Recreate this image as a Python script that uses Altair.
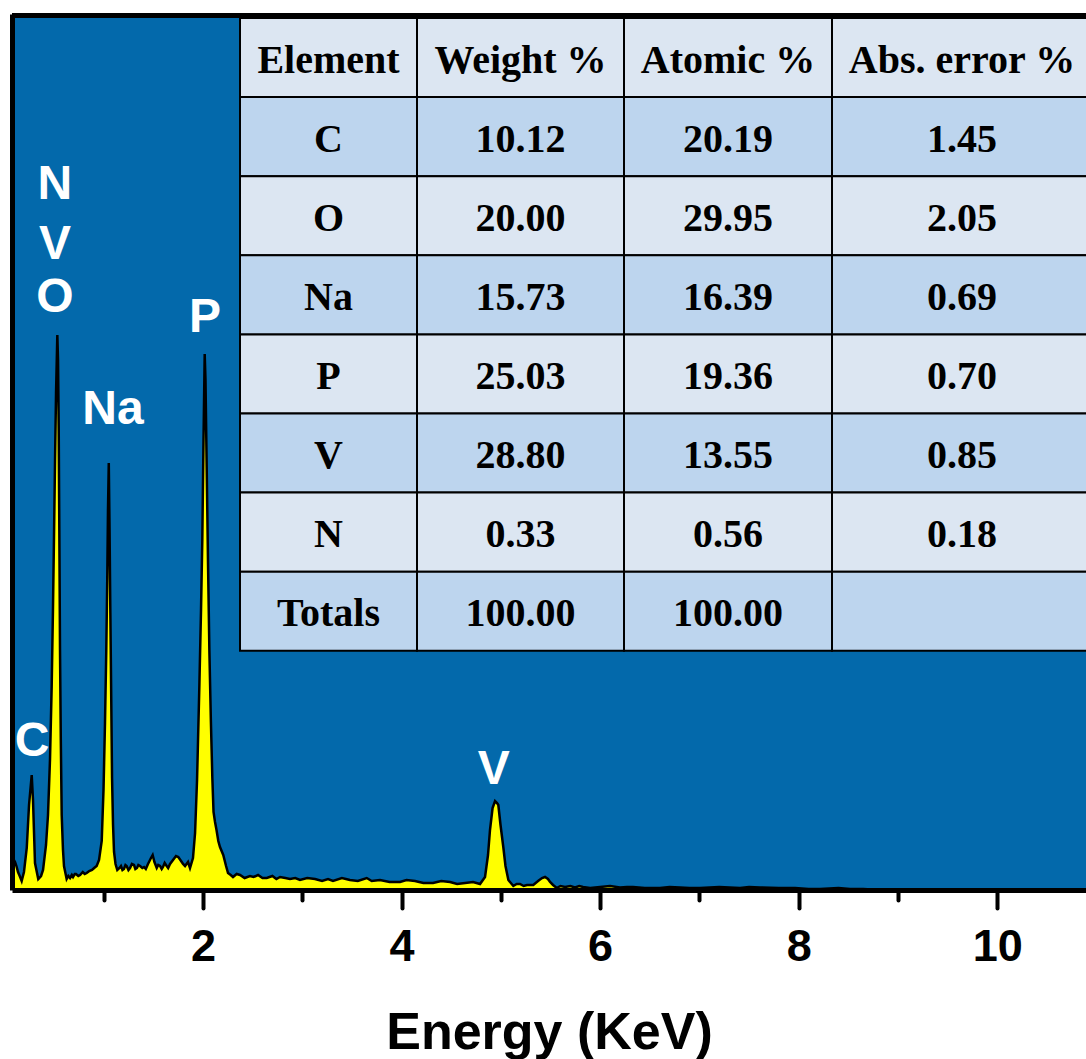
import altair as alt
import pandas as pd

# ---------------- data ----------------
energy = [0.083, 0.096, 0.108, 0.122, 0.138, 0.155, 0.175, 0.198, 0.226, 0.249,
          0.276, 0.289, 0.309, 0.342, 0.370, 0.390, 0.420, 0.440, 0.460, 0.477,
          0.490, 0.500, 0.511, 0.521, 0.534, 0.541, 0.548, 0.554, 0.561, 0.569,
          0.578, 0.591, 0.601, 0.628, 0.645, 0.662, 0.680, 0.692, 0.710, 0.722,
          0.745, 0.763, 0.790, 0.810, 0.830, 0.855, 0.883, 0.905, 0.930, 0.954,
          0.981, 0.999, 1.014, 1.027, 1.037, 1.044, 1.052, 1.060, 1.068, 1.077,
          1.085, 1.095, 1.105, 1.120, 1.138, 1.160, 1.175, 1.190, 1.205, 1.220,
          1.232, 1.250, 1.266, 1.285, 1.306, 1.320, 1.336, 1.350, 1.367, 1.390,
          1.407, 1.425, 1.447, 1.477, 1.494, 1.512, 1.535, 1.550, 1.568, 1.585,
          1.598, 1.615, 1.635, 1.650, 1.669, 1.699, 1.729, 1.752, 1.780, 1.800,
          1.820, 1.850, 1.870, 1.900, 1.921, 1.941, 1.964, 1.981, 1.994, 2.006,
          2.018, 2.026, 2.038, 2.051, 2.065, 2.080, 2.095, 2.107, 2.122, 2.137,
          2.155, 2.172, 2.205, 2.233, 2.253, 2.280, 2.303, 2.340, 2.374, 2.420,
          2.474, 2.510, 2.555, 2.600, 2.643, 2.700, 2.740, 2.777, 2.830, 2.877,
          2.930, 2.978, 3.050, 3.129, 3.200, 3.260, 3.310, 3.400, 3.481, 3.560,
          3.650, 3.700, 3.783, 3.880, 3.985, 4.050, 4.136, 4.220, 4.317, 4.400,
          4.489, 4.560, 4.640, 4.720, 4.791, 4.841, 4.871, 4.891, 4.917, 4.942,
          4.962, 4.975, 4.997, 5.025, 5.047, 5.076, 5.126, 5.160, 5.193, 5.230,
          5.264, 5.327, 5.375, 5.415, 5.445, 5.475, 5.496, 5.526, 5.563, 5.600,
          5.647, 5.700, 5.747, 5.790, 5.828, 5.900, 5.999, 6.100, 6.200, 6.270,
          6.331, 6.450, 6.603, 6.700, 6.805, 6.900, 7.006, 7.200, 7.409, 7.500,
          7.610, 7.800, 7.963, 8.100, 8.215, 8.400, 8.517, 8.650, 8.819, 10.893]
counts = [35, 30, 28, 24, 18, 14, 9, 18, 42, 85,
          115, 90, 27, 11, 14, 20, 45, 75, 130, 203,
          280, 350, 430, 497, 555, 530, 460, 360, 240, 150,
          75, 40, 24, 11, 14, 12, 15, 13, 16, 16,
          14, 15, 18, 16, 17, 19, 20, 22, 24, 30,
          49, 100, 167, 240, 313, 380, 427, 360, 277, 190,
          112, 65, 38, 26, 20, 22, 24, 20, 21, 25,
          24, 20, 22, 26, 25, 21, 22, 25, 24, 22,
          23, 21, 26, 32, 35, 28, 22, 25, 24, 21,
          23, 27, 24, 22, 26, 30, 34, 33, 29, 26,
          24, 28, 22, 32, 57, 110, 203, 280, 350, 450,
          536, 510, 423, 330, 240, 170, 112, 78, 68, 60,
          49, 43, 35, 24, 17, 15, 13, 16, 15, 12,
          14, 13, 15, 12, 12, 14, 11, 13, 12, 11,
          12, 10, 12, 11, 9, 11, 9, 12, 10, 9,
          12, 9, 10, 8, 8, 10, 9, 7, 7, 9,
          8, 6, 7, 8, 6, 13, 35, 60, 82, 89,
          87, 85, 65, 43, 24, 10, 4, 6, 6, 4,
          5, 5, 9, 12, 13, 11, 8, 5, 2, 4,
          3, 4, 2.5, 4, 3, 2, 3, 4, 2.5, 3,
          3, 2, 2, 3, 2.5, 2, 2, 3, 2, 3,
          2.5, 2, 2, 1, 1, 2, 1, 1, 0, 0]

peak_names = ["N", "V", "O", "Na", "P", "C", "V"]
peak_label_energy = [0.51, 0.51, 0.51, 1.095, 2.02, 0.279, 4.93]
peak_label_counts = [705, 645, 592, 480, 572, 148, 120]

table_header = ["Element", "Weight %", "Atomic %", "Abs. error %"]
elements = ["C", "O", "Na", "P", "V", "N"]
weight_pct = [10.12, 20.00, 15.73, 25.03, 28.80, 0.33]
atomic_pct = [20.19, 29.95, 16.39, 19.36, 13.55, 0.56]
abs_error_pct = [1.45, 2.05, 0.69, 0.70, 0.85, 0.18]
totals_row = ["Totals", "100.00", "100.00", ""]

# ---------------- layout / style ----------------
W, H = 1074, 876
X_DOMAIN = [0.0775, 10.893]
Y_DOMAIN = [0, 876]
BLUE = "#0369AB"
LIGHT = "#DCE6F2"
DARK = "#BDD5EE"
SANS = "Liberation Sans"
SERIF = "Liberation Serif"

col_edges = [228, 405, 612, 820, 1084]
col_centers = [316.5, 508.5, 716, 950]
table_top = 4
row_h = 79.1

spec = pd.DataFrame({"energy": energy, "counts": counts})
labels = pd.DataFrame({"name": peak_names, "energy": peak_label_energy,
                       "counts": peak_label_counts})

rows = [table_header]
for e, w, a, ae in zip(elements, weight_pct, atomic_pct, abs_error_pct):
    rows.append([e, f"{w:.2f}", f"{a:.2f}", f"{ae:.2f}"])
rows.append(totals_row)

cells = []
for r, row in enumerate(rows):
    for c, txt in enumerate(row):
        cells.append({
            "x0": col_edges[c], "x1": col_edges[c + 1], "xm": col_centers[c],
            "y0": table_top + r * row_h, "y1": table_top + (r + 1) * row_h,
            "ym": table_top + (r + 0.5) * row_h,
            "text": txt, "shade": "light" if r % 2 == 0 else "dark",
        })
cells = pd.DataFrame(cells)

xs = alt.Scale(domain=X_DOMAIN, nice=False, zero=False)
ys = alt.Scale(domain=Y_DOMAIN, nice=False, zero=False)

x_axis = alt.Axis(
    values=list(range(1, 11)), format="d",
    labelExpr="datum.value % 2 == 0 ? datum.label : ''",
    tickSize={"condition": {"test": "datum.value % 2 == 1", "value": 10}, "value": 18},
    tickWidth=4, tickColor="black", tickCap="round",
    domainColor="black", domainWidth=5,
    labelFont=SANS, labelFontSize=45, labelFontWeight="bold", labelColor="black",
    labelPadding=16,
    title="Energy (KeV)", titleFont=SANS, titleFontSize=52, titleFontWeight="bold",
    titleColor="black", titlePadding=38,
    grid=False, zindex=2,
)
y_axis = alt.Axis(domainColor="black", domainWidth=5, ticks=False, labels=False,
                  title=None, grid=False, zindex=2)

area = alt.Chart(spec).mark_area(color="#FFFF00", interpolate="linear").encode(
    x=alt.X("energy:Q", scale=xs, axis=x_axis),
    y=alt.Y("counts:Q", scale=ys, axis=y_axis),
)
line = alt.Chart(spec).mark_line(color="black", strokeWidth=2.5, interpolate="linear").encode(
    x=alt.X("energy:Q", scale=xs),
    y=alt.Y("counts:Q", scale=ys),
)
peak_text = alt.Chart(labels).mark_text(
    font=SANS, fontSize=48, fontWeight="bold", color="white",
    align="center", baseline="middle",
).encode(
    x=alt.X("energy:Q", scale=xs),
    y=alt.Y("counts:Q", scale=ys),
    text="name:N",
)
spectrum = alt.layer(area, line, peak_text)

txs = alt.Scale(domain=[0, W], nice=False, zero=False)
tys = alt.Scale(domain=[0, H], nice=False, zero=False, reverse=True)

cell_rect = alt.Chart(cells).mark_rect(stroke="black", strokeWidth=2).encode(
    x=alt.X("x0:Q", scale=txs, axis=None), x2="x1:Q",
    y=alt.Y("y0:Q", scale=tys, axis=None), y2="y1:Q",
    fill=alt.Fill("shade:N", scale=alt.Scale(domain=["light", "dark"], range=[LIGHT, DARK]),
                  legend=None),
)
cell_text = alt.Chart(cells).mark_text(
    font=SERIF, fontSize=40, fontWeight="bold", color="black",
    align="center", baseline="middle", dy=3,
).encode(
    x=alt.X("xm:Q", scale=txs, axis=None),
    y=alt.Y("ym:Q", scale=tys, axis=None),
    text="text:N",
)
top_rule = alt.Chart(pd.DataFrame({"k": [0]})).mark_rule(color="black", strokeWidth=5).encode(
    x=alt.value(0), x2=alt.value(W), y=alt.value(1.5)
)
table = alt.layer(cell_rect, cell_text, top_rule)

chart = alt.layer(spectrum, table).resolve_scale(
    x="independent", y="independent"
).properties(
    width=W, height=H,
    padding={"left": 12, "top": 14, "right": 0, "bottom": 169},
    autosize=alt.AutoSizeParams(type="none"),
).configure_view(fill=BLUE, stroke=None)

chart.save("out.html", embed_options={"renderer": "svg", "actions": False})
